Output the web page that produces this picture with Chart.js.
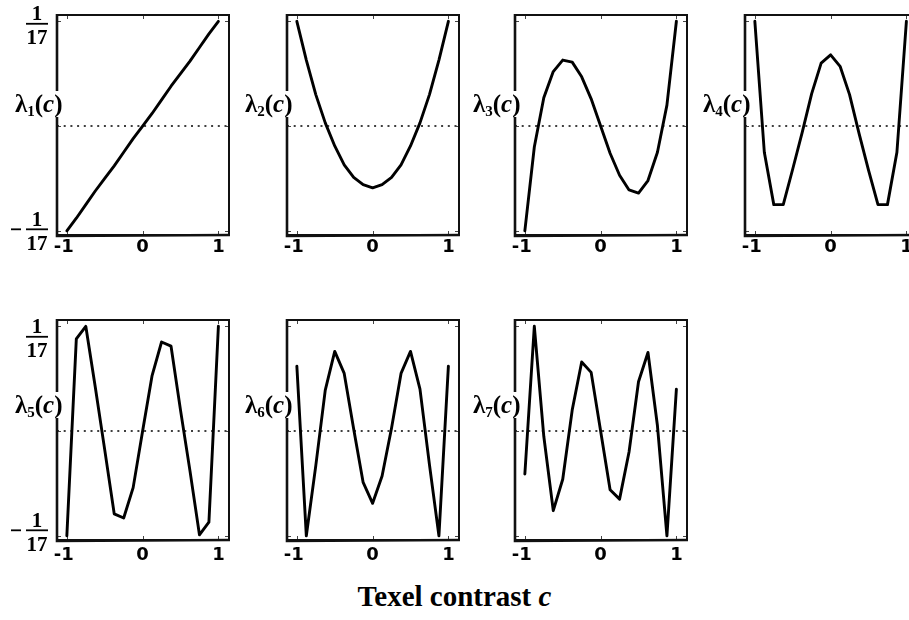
<!DOCTYPE html>
<html>
<head>
<meta charset="utf-8">
<script src="https://cdn.jsdelivr.net/npm/chart.js@4.4.1/dist/chart.umd.min.js"></script>
<style>
  html, body { margin: 0; padding: 0; background: #fff; overflow: hidden; }
  body { width: 909px; height: 620px; position: relative; }
  canvas { position: absolute; }
  .lam {
    position: absolute;
    background: #fff;
    color: #000;
    font: bold 25px "Liberation Serif", "DejaVu Serif", serif;
    line-height: 26px;
    padding: 0 1px;
    white-space: nowrap;
  }
  .lam sub { font-size: 15px; vertical-align: -4px; line-height: 0; }
  #xtitle {
    position: absolute;
    left: 0; width: 909px; top: 580px;
    text-align: center;
    font: bold 29px "Liberation Serif", "DejaVu Serif", serif;
    color: #000;
  }
</style>
</head>
<body>
<div id="xtitle">Texel contrast <i>c</i></div>
<script>
// texel contrast, 17 levels
const contrast = [-1, -0.875, -0.75, -0.625, -0.5, -0.375, -0.25, -0.125, 0,
                  0.125, 0.25, 0.375, 0.5, 0.625, 0.75, 0.875, 1];

// basis values, in units of 1/17
const lambda1 = [-1.0, -0.88, -0.75, -0.62, -0.5, -0.38, -0.25, -0.12, 0.0, 0.12, 0.25, 0.38, 0.5, 0.62, 0.75, 0.88, 1.0];
const lambda2 = [1.0, 0.63, 0.3, 0.03, -0.19, -0.37, -0.49, -0.56, -0.59, -0.56, -0.49, -0.37, -0.19, 0.03, 0.3, 0.63, 1.0];
const lambda3 = [-1.0, -0.2, 0.27, 0.52, 0.63, 0.61, 0.47, 0.26, 0.0, -0.26, -0.47, -0.61, -0.64, -0.52, -0.25, 0.2, 1.0];
const lambda4 = [1.0, -0.25, -0.75, -0.75, -0.41, -0.06, 0.31, 0.6, 0.68, 0.57, 0.3, -0.07, -0.42, -0.75, -0.75, -0.25, 1.0];
const lambda5 = [-1.0, 0.88, 1.0, 0.42, -0.18, -0.79, -0.83, -0.54, 0.0, 0.53, 0.85, 0.81, 0.2, -0.38, -0.99, -0.87, 1.0];
const lambda6 = [0.62, -1.0, -0.33, 0.39, 0.76, 0.55, 0.02, -0.49, -0.69, -0.43, 0.03, 0.55, 0.76, 0.4, -0.32, -1.0, 0.62];
const lambda7 = [-0.41, 1.0, -0.05, -0.76, -0.46, 0.2, 0.66, 0.56, 0.0, -0.56, -0.65, -0.2, 0.47, 0.75, 0.05, -1.0, 0.4];

const xTicks = [-1, 0, 1];
const xTickLabels = ['-1 ', '0', '1'];
const yTicks = [-1, 0, 1];           // -1/17, 0, 1/17
const yFracNum = '1', yFracDen = '17';

const panels = [
    { vals: lambda1, sub: '1', left: 57,  top: 15,  frac: true,  pad: 2 },
    { vals: lambda2, sub: '2', left: 287, top: 15,  frac: false, pad: 2 },
    { vals: lambda3, sub: '3', left: 515, top: 15,  frac: false, pad: 2 },
    { vals: lambda4, sub: '4', left: 745, top: 15,  frac: false, pad: 2 },
    { vals: lambda5, sub: '5', left: 57,  top: 320, frac: true,  pad: 5 },
    { vals: lambda6, sub: '6', left: 287, top: 320, frac: false, pad: 5 },
    { vals: lambda7, sub: '7', left: 515, top: 320, frac: false, pad: 5 },
];

const FRAME_W = 172, FRAME_H = 220;
const PAD_L = 55, PAD_T = 15, PAD_R = 12, PAD_B = 32;

// frame, inner tick marks and dotted zero line
const framePlugin = {
    id: 'frame',
    beforeDatasetsDraw(chart) {
        const { ctx, chartArea: a, scales: { x, y } } = chart;
        ctx.save();
        ctx.strokeStyle = '#000';
        const y0 = y.getPixelForValue(0);
        ctx.setLineDash([2, 4.7]);
        ctx.lineWidth = 1.6;
        ctx.beginPath();
        ctx.moveTo(a.left, y0);
        ctx.lineTo(a.right, y0);
        ctx.stroke();
        ctx.setLineDash([]);
        ctx.lineWidth = 1;
        ctx.strokeStyle = '#444';
        ctx.beginPath();
        xTicks.forEach(v => {
            const px = Math.round(x.getPixelForValue(v)) + 0.5;
            ctx.moveTo(px, a.top); ctx.lineTo(px, a.top + 4);
            ctx.moveTo(px, a.bottom); ctx.lineTo(px, a.bottom - 4);
        });
        yTicks.forEach(v => {
            const py = Math.round(y.getPixelForValue(v)) + 0.5;
            ctx.moveTo(a.left, py); ctx.lineTo(a.left + 4, py);
            ctx.moveTo(a.right, py); ctx.lineTo(a.right - 4, py);
        });
        ctx.stroke();
        ctx.restore();
    },
    afterDatasetsDraw(chart) {
        const { ctx, chartArea: a } = chart;
        ctx.save();
        ctx.strokeStyle = '#111';
        ctx.lineWidth = 2;
        ctx.strokeRect(a.left, a.top, a.right - a.left, a.bottom - a.top);
        ctx.lineWidth = 2.6;
        ctx.beginPath();
        ctx.moveTo(a.left, a.top - 1); ctx.lineTo(a.left, a.bottom + 1);
        ctx.lineTo(a.right + 1, a.bottom);
        ctx.stroke();
        ctx.restore();
    }
};

// y tick labels written as fractions +-1/17
const fracPlugin = {
    id: 'fracTicks',
    afterDraw(chart, args, opts) {
        if (!opts.show) return;
        const { ctx, chartArea: a, scales: { y } } = chart;
        const cx = a.left - 20;
        ctx.save();
        ctx.fillStyle = '#000';
        ctx.strokeStyle = '#000';
        ctx.font = 'bold 21px "Liberation Serif", "DejaVu Serif", serif';
        ctx.textAlign = 'center';
        y.ticks.forEach(t => {
            if (t.value === 0) return;
            const off = t.value > 0 ? opts.offTop : opts.offBottom;
            const by = y.getPixelForValue(t.value) + off;
            ctx.textBaseline = 'alphabetic';
            ctx.fillText(yFracNum, cx, by - 3);
            ctx.textBaseline = 'top';
            ctx.fillText(yFracDen, cx, by + 5);
            ctx.lineWidth = 1.8;
            ctx.beginPath();
            ctx.moveTo(cx - 11, by + 0.5);
            ctx.lineTo(cx + 11, by + 0.5);
            ctx.stroke();
            if (t.value < 0) {
                ctx.beginPath();
                ctx.moveTo(cx - 26, by + 0.5);
                ctx.lineTo(cx - 16, by + 0.5);
                ctx.stroke();
            }
        });
        ctx.restore();
    }
};

panels.forEach(p => {
    const cv = document.createElement('canvas');
    cv.width = PAD_L + FRAME_W + PAD_R;
    cv.height = PAD_T + FRAME_H + PAD_B;
    cv.style.left = (p.left - PAD_L) + 'px';
    cv.style.top = (p.top - PAD_T) + 'px';
    document.body.appendChild(cv);

    new Chart(cv.getContext('2d'), {
        type: 'line',
        data: {
            datasets: [{
                data: contrast.map((c, i) => ({ x: c, y: p.vals[i] })),
                borderColor: '#000',
                borderWidth: 2.9,
                borderJoinStyle: 'round',
                borderCapStyle: 'round',
                pointRadius: 0,
                tension: 0,
                fill: false,
            }]
        },
        options: {
            responsive: false,
            animation: false,
            devicePixelRatio: 1,
            layout: { padding: { left: 0, top: PAD_T, right: PAD_R, bottom: 0 } },
            plugins: {
                legend: { display: false },
                tooltip: { enabled: false },
                fracTicks: { show: p.frac, offTop: p.top < 100 ? 2 : 10, offBottom: p.top < 100 ? -2 : -6 },
            },
            scales: {
                x: {
                    type: 'linear',
                    min: -1.13,
                    max: 1.14,
                    grid: { display: false, drawTicks: false },
                    border: { display: false },
                    afterBuildTicks: s => { s.ticks = xTicks.map(v => ({ value: v })); },
                    afterFit: s => { s.height = PAD_B; },
                    ticks: {
                        color: '#000',
                        padding: p.pad,
                        maxRotation: 0,
                        autoSkip: false,
                        font: { family: '"DejaVu Sans", "Liberation Sans", sans-serif', size: 18, weight: 'bold' },
                        callback: v => xTickLabels[xTicks.indexOf(v)],
                    }
                },
                y: {
                    type: 'linear',
                    min: -1.04,
                    max: 1.06,
                    grid: { display: false, drawTicks: false },
                    border: { display: false },
                    afterBuildTicks: s => { s.ticks = yTicks.map(v => ({ value: v })); },
                    afterFit: s => { s.width = PAD_L; },
                    ticks: { display: false }
                }
            }
        },
        plugins: [framePlugin, fracPlugin]
    });

    // lambda_i(c) label, sits over the left frame edge
    const lab = document.createElement('div');
    lab.className = 'lam';
    lab.innerHTML = '\u03bb<sub>' + p.sub + '</sub>(<i>c</i>)';
    lab.style.left = (p.left - 43) + 'px';
    lab.style.top = (p.top + (p.top < 100 ? 76 : 72)) + 'px';
    document.body.appendChild(lab);
});
</script>
</body>
</html>
